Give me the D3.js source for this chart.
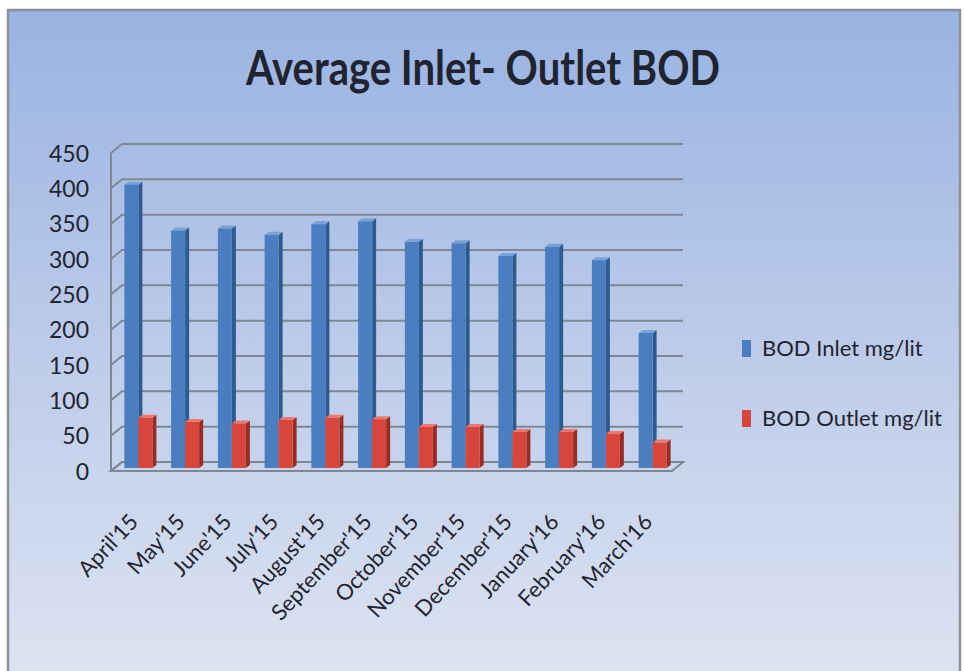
<!DOCTYPE html>
<html>
<head>
<meta charset="utf-8">
<script src="https://cdn.jsdelivr.net/npm/d3@7"></script>
<style>
  body { margin: 0; background: #fff; }
  text { font-family: Lato, "Open Sans", sans-serif; fill: #1f2430; }
</style>
</head>
<body>
<div id="chart"></div>
<script>
var months = ["April'15", "May'15", "June'15", "July'15", "August'15", "September'15",
              "October'15", "November'15", "December'15", "January'16", "February'16", "March'16"];
var bodInlet  = [401, 336, 339, 330, 345, 349, 320, 318, 300, 313, 294, 191];
var bodOutlet = [71, 65, 63, 68, 71, 69, 58, 58, 51, 51, 48, 36];
var seriesNames = ["BOD Inlet mg/lit", "BOD Outlet mg/lit"];
var yTicks = [0, 50, 100, 150, 200, 250, 300, 350, 400, 450];

var W = 964, H = 671;
var svg = d3.select("#chart").append("svg")
    .attr("width", W)
    .attr("height", H);

var defs = svg.append("defs");
var bg = defs.append("linearGradient")
    .attr("id", "bg")
    .attr("x1", 0).attr("y1", 0).attr("x2", 0).attr("y2", 1);
bg.append("stop").attr("offset", "0%").attr("stop-color", "#99b3e2");
bg.append("stop").attr("offset", "50%").attr("stop-color", "#bccbe9");
bg.append("stop").attr("offset", "100%").attr("stop-color", "#dde4f2");

// frame
svg.append("rect")
    .attr("x", 8).attr("y", 10)
    .attr("width", 952).attr("height", 670)
    .attr("fill", "url(#bg)")
    .attr("stroke", "#8b9099")
    .attr("stroke-width", 2.5);

svg.append("text")
    .attr("x", 483).attr("y", 85)
    .attr("text-anchor", "middle")
    .attr("font-size", 48)
    .attr("font-weight", "bold")
    .attr("textLength", 474)
    .attr("lengthAdjust", "spacingAndGlyphs")
    .text("Average Inlet- Outlet BOD");

// 3d offsets: wall is 11px right / 9px up of the front plane, bars sit 4px/3px in
var wallDx = 11, wallDy = -9, barDx = 4, barDy = -3;
var sideDx = 4, sideDy = -3;

var x = d3.scaleBand().domain(months).range([111, 672]);
var y = d3.scaleLinear().domain([0, 450]).range([471, 153]);

var grid = svg.append("g").attr("stroke", "#7e8795").attr("stroke-width", 2).attr("fill", "none");

// floor
grid.append("path")
    .attr("d", "M" + x.range()[0] + "," + y(0) + "L" + x.range()[1] + "," + y(0) +
               "L" + (x.range()[1] + wallDx) + "," + (y(0) + wallDy) +
               "L" + (x.range()[0] + wallDx) + "," + (y(0) + wallDy) + "Z")
    .attr("fill", "#c9d4ea");

// left side wall edge
grid.append("line")
    .attr("x1", x.range()[0]).attr("x2", x.range()[0])
    .attr("y1", y(450)).attr("y2", y(0));

grid.selectAll(".gl")
    .data(yTicks)
    .enter().append("path")
    .attr("class", "gl")
    .attr("d", function (d) {
        return "M" + x.range()[0] + "," + y(d) +
               "L" + (x.range()[0] + wallDx) + "," + (y(d) + wallDy) +
               "L" + (x.range()[1] + wallDx) + "," + (y(d) + wallDy);
    });

// y axis labels
var yAxis = d3.axisLeft(y).tickValues(yTicks).tickSize(0).tickPadding(0);
var gy = svg.append("g")
    .attr("transform", "translate(89,0)")
    .call(yAxis);
gy.select(".domain").remove();
gy.selectAll("text")
    .attr("font-size", 23)
    .attr("font-family", "Lato, sans-serif")
    .attr("fill", "#1f2430")
    .attr("dy", "0.36em");

// bars
var colors = [
    {front: "#4a7ec0", side: "#2e5b8e", top: "#79a3d6"},
    {front: "#d8463b", side: "#972c25", top: "#ea7a70"}
];
var bw = 14;

function drawBars(values, s) {
    var c = colors[s];
    var g = svg.append("g");
    var bars = g.selectAll("g")
        .data(values)
        .enter().append("g")
        .attr("transform", function (d, i) {
            var cx = x(months[i]) + x.bandwidth() / 2 + barDx;
            return "translate(" + (cx - bw + s * bw) + ",0)";
        });
    // side face
    bars.append("path")
        .attr("fill", c.side)
        .attr("d", function (d) {
            var yt = y(d) + barDy, yb = y(0) + barDy;
            return "M" + bw + "," + yt + "L" + (bw + sideDx) + "," + (yt + sideDy) +
                   "L" + (bw + sideDx) + "," + (yb + sideDy) + "L" + bw + "," + yb + "Z";
        });
    // top face
    bars.append("path")
        .attr("fill", c.top)
        .attr("d", function (d) {
            var yt = y(d) + barDy;
            return "M0," + yt + "L" + sideDx + "," + (yt + sideDy) +
                   "L" + (bw + sideDx) + "," + (yt + sideDy) + "L" + bw + "," + yt + "Z";
        });
    // front face
    bars.append("rect")
        .attr("fill", c.front)
        .attr("x", 0)
        .attr("width", bw)
        .attr("y", function (d) { return y(d) + barDy; })
        .attr("height", function (d) { return y(0) - y(d); });
}
drawBars(bodInlet, 0);
drawBars(bodOutlet, 1);

// month labels
svg.append("g").selectAll("text")
    .data(months)
    .enter().append("text")
    .attr("font-size", 22)
    .attr("text-anchor", "end")
    .attr("transform", function (d) {
        return "translate(" + (x(d) + x.bandwidth() / 2 + barDx + 1) + ",523) rotate(-47)";
    })
    .text(function (d) { return d; });

// legend
var legend = svg.append("g").selectAll("g")
    .data(seriesNames)
    .enter().append("g")
    .attr("transform", function (d, i) { return "translate(742," + (340 + i * 70) + ")"; });
legend.append("rect")
    .attr("width", 9).attr("height", 17)
    .attr("fill", function (d, i) { return colors[i].front; });
legend.append("text")
    .attr("x", 20).attr("y", 16)
    .attr("font-size", 22)
    .text(function (d) { return d; });
</script>
</body>
</html>
